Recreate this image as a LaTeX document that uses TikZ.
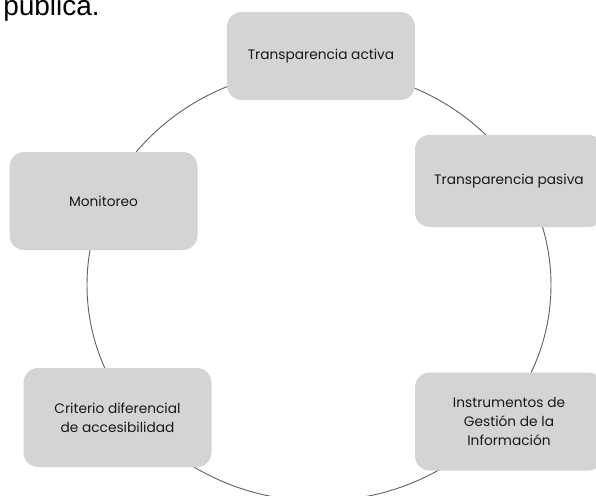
\documentclass[tikz,border=0pt]{standalone}
\usepackage{fontspec}
\setmainfont{Poppins}
\newfontfamily\pagefont{Liberation Sans}
\definecolor{boxgray}{RGB}{212,212,214}
\definecolor{ringgray}{RGB}{100,100,100}
\colorlet{labelgray}{black!90}
\tikzset{ stage/.style={fill=boxgray, rounded corners=11pt, align=center, text=labelgray, inner sep=0pt, minimum width=141pt, font=\fontsize{10.3}{14.5}\selectfont} }
\tikzset{ ring/.style={draw=ringgray, line width=0.7pt} }

\begin{document}
\begin{tikzpicture}[x=0.75pt,y=-0.75pt]
  \useasboundingbox (0,0) rectangle (596,496);
  \clip (0,0) rectangle (596,496);
  % page text above the figure
  \node[anchor=base west, inner sep=0pt, font=\pagefont\fontsize{21}{21}\selectfont] (page) at (3,15) {pública.};
  % cycle
  \draw[ring] (319,285) ellipse [x radius=174pt, y radius=162pt];
  % stages
  \node[stage, minimum height=66pt] (activa) at (321,56) {Transparencia activa};
  \node[stage, minimum height=69pt] (pasiva) at (509,181) {Transparencia pasiva};
  \node[stage, minimum height=73.5pt] (gestion) at (509,421.5) {Instrumentos de\\Gestión de la\\Información};
  \node[stage, minimum height=74.25pt] (criterio) at (117.5,417.5) {Criterio diferencial\\de accesibilidad};
  \node[stage, minimum height=73.5pt] (monitoreo) at (103.5,201) {Monitoreo};
\end{tikzpicture}
\end{document}
